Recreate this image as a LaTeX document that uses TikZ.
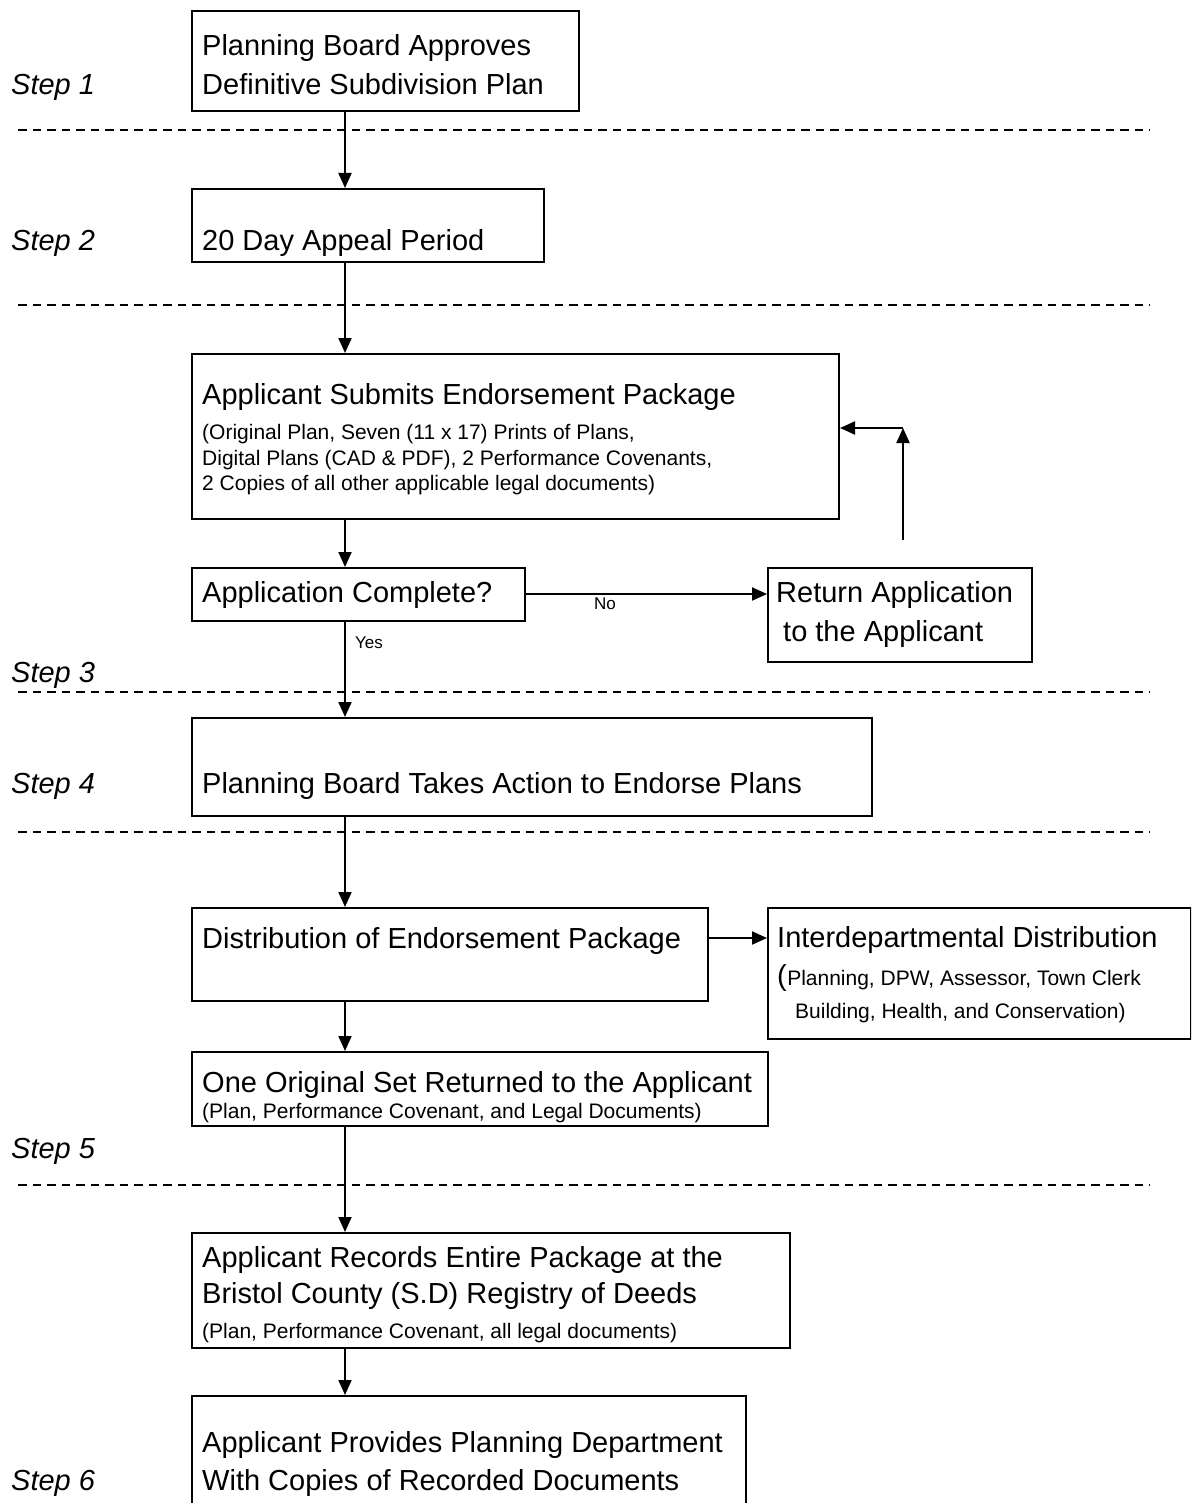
\documentclass[tikz,border=0pt]{standalone}
\usepackage{fontspec}
\setmainfont{Liberation Sans}
\usetikzlibrary{arrows.meta}

\begin{document}
\begin{tikzpicture}[x=1pt,y=-1pt,
  box/.style={draw, line width=2pt, rectangle, inner sep=0pt, anchor=north west},
  big/.style={inner sep=0pt, anchor=base west, font=\fontsize{29}{39}\selectfont},
  small/.style={inner sep=0pt, anchor=base west, font=\fontsize{21}{25}\selectfont},
  steplabel/.style={inner sep=0pt, anchor=base west, font=\fontsize{29}{39}\selectfont\itshape},
  tiny/.style={inner sep=0pt, font=\fontsize{17}{20}\selectfont},
  arr/.style={line width=2pt, -{Triangle[length=15pt,width=13pt]}},
  sep/.style={line width=1.5pt, dash pattern=on 8.5pt off 6pt}]

\useasboundingbox (0,0) rectangle (1191,1503);
\clip (0,0) rectangle (1191,1503);
\fill[white] (0,0) rectangle (1191,1503);

% step separators
\foreach \yy in {130,305,692,832,1185}
  \draw[sep] (18,\yy) -- (1150,\yy);

% step labels
\node[steplabel] (s1) at (11,95)   {Step 1};
\node[steplabel] (s2) at (11,251)  {Step 2};
\node[steplabel] (s3) at (11,682)  {Step 3};
\node[steplabel] (s4) at (11,793)  {Step 4};
\node[steplabel] (s5) at (11,1158) {Step 5};
\node[steplabel] (s6) at (11,1490) {Step 6};

% boxes
\node[box, minimum width=387pt, minimum height=100pt] (b1)  at (191,10)   {};
\node[box, minimum width=352pt, minimum height=73pt]  (b2)  at (191,188)  {};
\node[box, minimum width=647pt, minimum height=165pt] (b3)  at (191,353)  {};
\node[box, minimum width=333pt, minimum height=53pt]  (b4)  at (191,567)  {};
\node[box, minimum width=264pt, minimum height=94pt]  (b5)  at (767,567)  {};
\node[box, minimum width=680pt, minimum height=98pt]  (b6)  at (191,717)  {};
\node[box, minimum width=516pt, minimum height=93pt]  (b7)  at (191,907)  {};
\node[box, minimum width=423pt, minimum height=131pt] (b8)  at (767,907)  {};
\node[box, minimum width=576pt, minimum height=74pt]  (b9)  at (191,1051) {};
\node[box, minimum width=598pt, minimum height=115pt] (b10) at (191,1232) {};
\node[box, minimum width=554pt, minimum height=130pt] (b11) at (191,1395) {};

% box texts
\node[big] (t1a) at (202,56) {Planning Board Approves};
\node[big] (t1b) at (202,95) {Definitive Subdivision Plan};
\node[big] (t2)  at (202,251) {20 Day Appeal Period};
\node[big] (t3)  at (202,404) {Applicant Submits Endorsement Package};
\node[small] (t3a) at (202,439) {(Original Plan, Seven (11 x 17) Prints of Plans,};
\node[small] (t3b) at (202,465) {Digital Plans (CAD \& PDF), 2 Performance Covenants,};
\node[small] (t3c) at (202,490) {2 Copies of all other applicable legal documents)};
\node[big] (t4)  at (202,602) {Application Complete?};
\node[big] (t5a) at (776,602) {Return Application};
\node[big] (t5b) at (783,641) {to the Applicant};
\node[big] (t6)  at (202,793) {Planning Board Takes Action to Endorse Plans};
\node[big] (t7)  at (202,948) {Distribution of Endorsement Package};
\node[big] (t8)  at (777,947) {Interdepartmental Distribution};
\node[big] (t8p) at (777,985) {(};
\node[small] (t8a) at (t8p.base east) {Planning, DPW, Assessor, Town Clerk};
\node[small] (t8b) at (795,1018) {Building, Health, and Conservation)};
\node[big] (t9)  at (202,1092) {One Original Set Returned to the Applicant};
\node[small] (t9a) at (202,1118) {(Plan, Performance Covenant, and Legal Documents)};
\node[big] (t10a) at (202,1267) {Applicant Records Entire Package at the};
\node[big] (t10b) at (202,1303) {Bristol County (S.D) Registry of Deeds};
\node[small] (t10c) at (202,1338) {(Plan, Performance Covenant, all legal documents)};
\node[big] (t11a) at (202,1452) {Applicant Provides Planning Department};
\node[big] (t11b) at (202,1490) {With Copies of Recorded Documents};

% connectors along the main spine
\coordinate (spine) at (345,0);
\draw[arr] (b1.south -| spine) -- (b2.north -| spine);
\draw[arr] (b2.south -| spine) -- (b3.north -| spine);
\draw[arr] (b3.south -| spine) -- (b4.north -| spine);
\draw[arr] (b4.south -| spine) -- (b6.north -| spine);
\draw[arr] (b6.south -| spine) -- (b7.north -| spine);
\draw[arr] (b7.south -| spine) -- (b9.north -| spine);
\draw[arr] (b9.south -| spine) -- (b10.north -| spine);
\draw[arr] (b10.south -| spine) -- (b11.north -| spine);

% decision branch
\coordinate (nolevel) at (0,594);
\draw[arr] (b4.east |- nolevel) -- (b5.west |- nolevel);
\node[tiny] (no)  at (605,604) {No};
\node[tiny] (yes) at (369,643) {Yes};

% return loop back to the submission
\coordinate (loopfoot) at (903,540);
\coordinate (loophead) at (903,428);
\draw[arr] (loopfoot) -- (loophead);
\draw[arr] (loophead) -- (loophead -| b3.east);

% side distribution
\coordinate (distlevel) at (0,938);
\draw[arr] (b7.east |- distlevel) -- (b8.west |- distlevel);

\end{tikzpicture}
\end{document}
